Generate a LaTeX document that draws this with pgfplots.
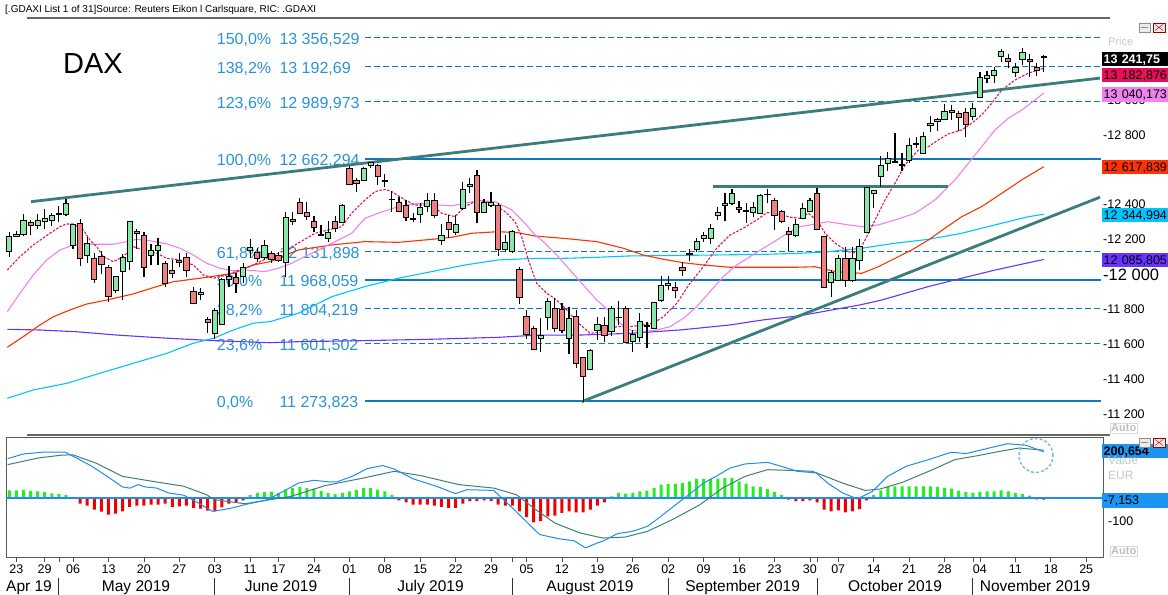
\documentclass[border=0pt]{standalone}
\usepackage{pgfplots}
\pgfplotsset{compat=1.18}
\usepackage{pgfplotstable}
\usepackage{fontspec}
\setmainfont{Liberation Sans}
\definecolor{upc}{HTML}{88E8A8}
\definecolor{dnc}{HTML}{F08080}
\definecolor{fibtxt}{HTML}{2A92D8}
\definecolor{fibln}{HTML}{0F78C0}
\definecolor{trend}{HTML}{3C7C7A}
\definecolor{ma5}{HTML}{E8105A}
\definecolor{ma20}{HTML}{EE82EE}
\definecolor{ma50}{HTML}{FF3300}
\definecolor{ma100}{HTML}{00C4FF}
\definecolor{ma200}{HTML}{6633FF}
\definecolor{macdb}{HTML}{1E8CF0}
\definecolor{macds}{HTML}{3F7F78}
\definecolor{hgreen}{HTML}{22EE22}
\definecolor{hred}{HTML}{F00000}
\definecolor{boxblue}{HTML}{1C94F4}

\pgfdeclareplotmark{candle}{%
  \pgfpathrectangle{\pgfqpoint{-2.6bp}{0bp}}{\pgfqpoint{5.2bp}{\candleh bp}}%
  \pgfusepathqfillstroke}
\pgfdeclareplotmark{wick}{%
  \pgfpathmoveto{\pgfqpoint{0bp}{0bp}}%
  \pgfpathlineto{\pgfqpoint{0bp}{\wickh bp}}%
  \pgfusepathqstroke}
\tikzset{fiblab/.style={anchor=base west, inner sep=0pt, yshift=-6.9bp, text=fibtxt, font=\fontsize{16bp}{18bp}\selectfont}}

\pgfplotstableread{
i O H L C t
0 12134.3 12245.0 12098.2 12216.3 u
1 12218.6 12249.1 12212.9 12230.1 u
2 12230.1 12346.6 12218.6 12310.4 u
3 12300.7 12312.2 12227.8 12283.5 d
4 12283.5 12344.9 12260.5 12312.2 u
5 12306.4 12373.5 12262.2 12323.6 u
6 12310.4 12350.6 12277.7 12339.1 u
7 12344.9 12392.5 12300.7 12348.3 u
8 12342.6 12430.9 12336.8 12409.7 u
9 12167.0 12289.2 12145.8 12285.2 u
10 12294.9 12316.2 12050.0 12092.4 d
11 12111.4 12212.9 12067.2 12178.5 u
12 12092.4 12121.1 11952.5 11972.0 d
13 12105.6 12136.0 12002.4 12058.0 d
14 12042.5 12055.7 11840.0 11874.4 d
15 11908.9 11992.6 11895.1 11989.2 u
16 12017.9 12117.1 11853.2 12098.2 u
17 12076.9 12306.4 12025.3 12304.7 u
18 12249.1 12258.8 12145.8 12237.6 d
19 12226.1 12241.6 11986.9 12040.8 d
20 12109.6 12174.5 12052.3 12138.3 u
21 12138.3 12207.2 12052.3 12168.7 u
22 12063.7 12075.2 11926.1 11949.0 d
23 12025.3 12082.7 11977.7 12006.4 d
24 12078.7 12121.1 12040.8 12071.2 d
25 12099.9 12121.1 11986.9 12023.6 d
26 11903.1 11929.5 11828.5 11834.3 d
27 11887.6 11923.8 11853.2 11897.4 u
28 11742.5 11757.4 11662.1 11725.2 d
29 11662.1 11809.0 11627.7 11794.1 u
30 11715.5 11977.7 11711.5 11969.7 u
31 11973.7 12050.0 11926.1 11990.9 u
32 11983.4 12006.4 11895.1 11949.0 d
33 11990.9 12065.5 11950.7 12040.8 u
34 12136.0 12203.2 12094.2 12155.5 u
35 12124.6 12151.5 12071.2 12092.4 d
36 12098.2 12197.4 12082.7 12168.7 u
37 12118.8 12134.3 12065.5 12088.4 d
38 12109.6 12128.6 12071.2 12082.7 d
39 12067.2 12359.8 11983.4 12327.7 u
40 12317.9 12356.3 12283.5 12304.7 d
41 12411.4 12438.4 12346.6 12348.3 d
42 12354.0 12417.1 12312.2 12333.4 d
43 12306.4 12336.8 12245.0 12270.3 d
44 12227.8 12281.8 12220.4 12224.4 d
45 12207.2 12308.1 12185.9 12241.6 u
46 12306.4 12335.1 12245.0 12264.5 d
47 12299.0 12404.0 12293.2 12398.2 u
48 12608.8 12619.1 12513.0 12517.0 d
49 12539.9 12551.4 12474.5 12520.4 d
50 12541.6 12617.9 12537.6 12608.8 u
51 12626.0 12646.6 12608.8 12640.9 u
52 12626.0 12633.4 12513.0 12562.9 d
53 12541.6 12574.3 12503.2 12535.9 d
54 12432.6 12480.2 12359.8 12428.6 d
55 12411.4 12444.1 12356.3 12363.8 d
56 12396.5 12426.9 12308.1 12325.4 d
57 12321.9 12350.6 12302.4 12317.9 d
58 12344.9 12411.4 12296.7 12385.0 u
59 12390.8 12465.3 12359.8 12425.2 u
60 12425.2 12465.3 12321.9 12339.1 d
61 12193.4 12289.2 12167.0 12224.4 u
62 12300.7 12339.1 12207.2 12256.5 d
63 12239.3 12339.1 12226.1 12289.2 u
64 12379.3 12530.2 12369.5 12488.3 u
65 12507.2 12551.4 12468.8 12518.7 u
66 12568.6 12599.0 12293.2 12356.3 d
67 12358.1 12430.9 12350.6 12413.7 u
68 12396.5 12472.8 12388.5 12415.4 u
69 12396.5 12408.0 12105.6 12144.1 d
70 12141.8 12226.1 12130.3 12185.9 u
71 12130.3 12254.8 12124.6 12249.1 u
72 12031.1 12040.8 11830.3 11868.7 d
73 11759.7 11795.8 11627.7 11656.4 d
74 11690.8 11704.0 11566.3 11570.4 d
75 11635.2 11748.2 11556.6 11650.7 u
76 11755.7 11862.9 11681.1 11845.7 u
77 11803.3 11862.9 11671.3 11690.8 d
78 11799.8 11834.3 11662.1 11681.1 d
79 11633.5 11811.3 11541.7 11748.2 u
80 11761.4 11795.8 11461.3 11490.0 d
81 11524.5 11527.9 11266.0 11417.2 d
82 11457.4 11572.1 11451.6 11566.3 u
83 11677.1 11757.4 11623.7 11715.5 u
84 11709.8 11757.4 11614.0 11652.4 d
85 11673.6 11818.8 11648.4 11803.3 u
86 11755.7 11849.2 11709.8 11751.6 d
87 11803.3 11818.8 11606.5 11610.5 d
88 11616.3 11681.1 11553.1 11654.1 u
89 11639.2 11776.9 11614.0 11728.7 u
90 11709.8 11728.7 11576.1 11700.0 d
91 11690.8 11843.4 11685.1 11837.7 u
92 11851.5 11990.9 11843.4 11935.2 u
93 11937.5 11990.9 11910.6 11949.0 u
94 11923.8 11956.5 11866.4 11908.9 d
95 12040.8 12072.9 11990.9 12023.6 d
96 12115.4 12144.1 12076.9 12121.1 u
97 12144.1 12207.2 12130.3 12191.7 u
98 12207.2 12245.0 12187.7 12224.4 u
99 12207.2 12289.2 12174.5 12264.5 u
100 12336.8 12385.0 12312.2 12356.3 u
101 12396.5 12465.3 12308.1 12408.0 u
102 12405.7 12490.0 12398.2 12465.3 u
103 12385.0 12419.4 12354.0 12373.5 d
104 12367.8 12408.0 12296.7 12363.8 d
105 12354.0 12415.4 12331.1 12385.0 u
106 12350.6 12461.3 12344.9 12455.6 u
107 12457.3 12488.3 12411.4 12461.3 u
108 12422.9 12436.7 12254.8 12340.8 d
109 12359.8 12369.5 12294.9 12302.4 d
110 12247.3 12273.7 12136.0 12231.8 d
111 12224.4 12316.2 12216.3 12287.5 u
112 12321.9 12408.0 12317.9 12379.3 u
113 12359.8 12436.7 12356.3 12422.9 u
114 12465.3 12494.0 12254.8 12258.8 d
115 12216.3 12220.4 11922.0 11926.1 d
116 11954.7 12025.3 11872.1 12012.1 u
117 11967.9 12111.4 11963.9 12092.4 u
118 12092.4 12159.0 11929.5 11967.9 d
119 11967.9 12159.0 11958.2 12092.4 u
120 12082.7 12201.4 12025.3 12163.0 u
121 12241.6 12503.2 12235.9 12499.8 u
122 12465.3 12484.3 12382.7 12482.6 u
123 12560.6 12679.3 12503.2 12626.0 u
124 12637.4 12704.0 12593.3 12666.1 u
125 12644.9 12809.6 12637.4 12650.6 u
126 12633.4 12694.8 12595.0 12623.7 d
127 12656.4 12780.9 12640.9 12738.4 u
128 12744.2 12786.6 12726.9 12749.9 u
129 12694.8 12818.7 12690.8 12790.1 u
130 12855.5 12908.8 12818.7 12866.9 u
131 12878.4 12897.0 12824.5 12889.9 u
132 12889.9 12977.7 12885.9 12937.5 u
133 12941.5 12970.2 12885.9 12931.8 d
134 12924.3 12939.2 12824.5 12901.4 d
135 12930.0 12953.0 12786.6 12862.9 d
136 12908.8 12985.1 12885.9 12953.0 u
137 13016.1 13163.0 13010.4 13130.8 u
138 13125.1 13167.0 13099.8 13142.3 u
139 13142.3 13188.2 13099.8 13168.7 u
140 13253.0 13291.5 13220.3 13277.7 u
141 13239.8 13262.8 13182.5 13224.3 d
142 13159.5 13214.6 13134.3 13188.2 u
143 13235.8 13298.9 13201.4 13272.0 u
144 13234.1 13262.8 13134.3 13224.3 d
145 13185.9 13211.1 13140.0 13172.7 d
146 13253.0 13259.0 13163.0 13241.75 d
}\candles

\pgfplotstableread{
i h
0 33
1 33
2 35
3 30
4 29
5 25
6 20
7 17
8 13
9 1
10 -25
11 -33
12 -51
13 -59
14 -72
15 -68
16 -58
17 -39
18 -33
19 -33
20 -29
21 -29
22 -25
23 -39
24 -36
25 -33
26 -43
27 -46
28 -55
29 -58
30 -41
31 -25
32 -19
33 -10
34 12
35 22
36 25
37 28
38 22
39 36
40 43
41 48
42 43
43 41
44 30
45 22
46 17
47 22
48 29
49 35
50 43
51 43
52 36
53 29
54 14
55 -10
56 -19
57 -29
58 -29
59 -29
60 -33
61 -39
62 -43
63 -43
64 -25
65 -14
66 -14
67 -10
68 -14
69 -29
70 -33
71 -33
72 -58
73 -83
74 -106
75 -101
76 -80
77 -77
78 -65
79 -58
80 -62
81 -62
82 -51
83 -33
84 -19
85 7
86 22
87 19
88 22
89 29
90 32
91 43
92 58
93 61
94 62
95 65
96 72
97 83
98 83
99 83
100 84
101 87
102 87
103 72
104 62
105 51
106 48
107 39
108 25
109 12
110 -7
111 -14
112 -14
113 -10
114 -19
115 -51
116 -58
117 -54
118 -62
119 -58
120 -48
121 -10
122 12
123 33
124 48
125 51
126 51
127 51
128 51
129 51
130 51
131 48
132 43
133 41
134 32
135 25
136 22
137 25
138 29
139 29
140 33
141 29
142 22
143 17
144 10
145 -6
146 -7.153
}\hist

\pgfplotstableread{
x y
7.3 12025
20 12102
33.3 12169
50 12236
60 12274
66.7 12289
73.3 12289
83.3 12255
90 12197
96.7 12159
103.3 12102
113.3 12073
123.3 12102
133.3 12159
143.3 12140
156.7 12121
166.7 12092
180 12083
193.3 12054
203.3 11997
213.3 11978
226.7 11997
240 12025
253.3 12054
266.7 12092
290 12152
315 12236
341.7 12274
351.7 12351
365 12427
375 12475
385 12488
391.7 12475
405 12427
415 12398
431.7 12398
441.7 12351
455 12331
465 12389
478.3 12427
491.7 12408
505 12360
515 12302
521.7 12216
528.3 12083
536.7 11949
546.7 11892
556.7 11853
566.7 11796
576.7 11729
590 11662
603.3 11671
616.7 11700
630 11700
643.3 11710
653.3 11720
663.3 11757
676.7 11834
690 11949
703.3 12044
716.7 12150
730 12226
743.3 12265
756.7 12312
766.7 12354
776.7 12351
790 12328
800 12322
808.3 12351
818.3 12302
825 12236
835 12179
848.3 12130
858.3 12121
865 12197
875 12312
885 12427
895 12523
905 12628
918.3 12714
928.3 12733
938.3 12771
948.3 12806
961.7 12829
971.7 12867
981.7 12915
991.7 12982
1001.7 13058
1015 13115
1028.3 13154
1043.7 13182.9
}\maA

\pgfplotstableread{
x y
7.3 11786
20 11892
33.3 11997
46.7 12083
60 12140
73.3 12169
86.7 12173
113.3 12173
126.7 12188
136.7 12201
150 12193
166.7 12175
180 12150
193.3 12111
206.7 12064
220 12035
233.3 12021
246.7 12025
265 12016
278.3 12035
291.7 12064
305 12102
325 12159
338.3 12197
351.7 12236
365 12322
378.3 12351
398.3 12389
418.3 12408
438.3 12398
451.7 12393
465 12408
478.3 12423
495 12417
511.7 12370
525 12293
535 12226
543.3 12188
556.7 12111
570 12025
583.3 11939
596.7 11853
610 11786
620 11720
630 11681
643.3 11671
656.7 11681
670 11700
683.3 11748
696.7 11815
710 11901
723.3 11987
736.7 12054
750 12102
763.3 12150
776.7 12197
790 12245
800 12274
828.3 12302
848.3 12284
861.7 12274
878.3 12284
895 12312
915 12351
935 12427
955 12542
968.3 12637
981.7 12733
995 12829
1008.3 12896
1021.7 12943
1035 13001
1043.7 13040.2
}\maB

\pgfplotstableread{
x y
7.3 11582
23.3 11643
40 11710
53.3 11757
70 11796
86.7 11830
106.7 11853
133.3 11888
156.7 11930
173.3 11958
200 11978
233.3 12006
253.3 12054
270 12073
281.7 12102
298.3 12140
331.7 12169
365 12188
398.3 12184
431.7 12201
451.7 12213
471.7 12236
498.3 12245
518.3 12239
535 12220
563.3 12207
596.7 12188
623.3 12150
643.3 12111
663.3 12087
683.3 12067
703.3 12054
730 12041
763.3 12041
796.7 12041
815 12044
835 12016
861.7 12006
878.3 12044
895 12092
911.7 12140
928.3 12197
945 12265
961.7 12331
981.7 12389
1001.7 12465
1021.7 12542
1043.7 12617.8
}\maC

\pgfplotstableread{
x y
7.3 11289
33.3 11337
66.7 11375
100 11433
133.3 11490
166.7 11547
193.3 11605
213.3 11633
233.3 11681
253.3 11720
270 11729
298.3 11777
331.7 11872
365 11930
398.3 11978
431.7 12016
465 12054
498.3 12083
535 12092
563.3 12092
596.7 12098
630 12106
696.7 12110
763.3 12115
800 12121
828.3 12130
861.7 12150
895 12179
928.3 12201
961.7 12236
995 12284
1028.3 12331
1043.7 12345.0
}\maD

\pgfplotstableread{
x y
7.3 11685
40 11681
76.7 11671
116.7 11652
166.7 11634
213.3 11620
270 11608
298.3 11614
365 11620
431.7 11628
498.3 11639
535 11651
580 11652
630 11662
680 11681
730 11710
763.3 11739
800 11763
860 11825
881.7 11853
928.3 11930
961.7 11978
995 12025
1043.7 12085.8
}\maE

\pgfplotstableread{
x v
7.7 171
23 191
42.1 199
65.1 199
76.5 174
91.8 138
107.2 94
122.5 48
130.1 43
137.8 58
145.4 48
156.9 43
168.4 22
183.7 12
195.2 -14
212.4 -58
229.6 -46
244.9 -29
267.9 -7
283.2 29
298.5 65
313.8 77
329.1 70
336.8 70
352.1 94
367.4 128
382.7 141
394.2 126
413.3 83
436.3 51
455.4 19
466.9 36
493.7 33
509 -29
524.3 -94
539.6 -159
558.7 -177
574 -186
585.5 -217
597 -196
602.5 -188
617.5 -155
632.5 -145
647.5 -123
658.7 -87
673.7 -36
688.7 14
703.7 65
718.7 101
730 130
745 148
767.5 155
778.7 141
797.5 116
816.2 109
827.5 65
842.5 22
857.5 -4
872.5 29
887.5 94
906.2 138
928.7 167
951.2 199
966.2 193
985 213
1007.5 236
1026.2 229
1043.7 200.654
}\macdline

\pgfplotstableread{
x v
7.7 145
38.3 174
61.2 186
72.7 188
95.7 152
122.5 94
153.1 72
183.7 51
206.7 14
214.3 -7
244.9 -25
290.9 7
325.3 54
363.6 87
394.2 116
421 97
459.2 58
493.7 43
516.6 14
535.8 -51
554.9 -109
580 -152
602.5 -174
625 -170
647.5 -145
673.7 -91
700 -29
722.5 43
745 94
767.5 123
790 120
812.5 116
842.5 65
865 33
880 39
902.5 68
932.5 123
955 167
977.5 184
1000 203
1018.7 217
1043.7 208
}\signalline

\begin{document}
\begin{tikzpicture}[x=1bp,y=1bp]

% ---------------- price panel ----------------
\begin{axis}[at={(0bp,163bp)}, anchor=south west, scale only axis,
  width=1103bp, height=414bp, xmin=0, xmax=1103, ymin=11095.9, ymax=13471.0,
  axis line style={draw=none}, clip=false, scaled y ticks=false, scaled x ticks=false,
  xtick=\empty, ytick pos=right, major tick length=0pt, ytick style={draw=none},
  ytick={11200,11400,11600,11800,12000,12200,12400,12600,12800,13000},
  yticklabels={-11 200,-11 400,-11 600,-11 800,{\fontsize{16.5bp}{17bp}\selectfont -12 000},-12 200,-12 400,-12 600,-12 800,-13 000},
  yticklabel style={anchor=west, inner xsep=0pt, font=\fontsize{12.5bp}{14bp}\selectfont, text=black},
]
% Fibonacci levels
\addplot[fibln, line width=1.1bp, dash pattern=on 6bp off 3bp] coordinates {(365,13356.529) (1101,13356.529)};
\addplot[fibln, line width=1.1bp, dash pattern=on 6bp off 3bp] coordinates {(365,13192.69) (1101,13192.69)};
\addplot[fibln, line width=1.1bp, dash pattern=on 6bp off 3bp] coordinates {(365,12989.973) (1101,12989.973)};
\addplot[fibln, line width=1.1bp] coordinates {(365,12662.294) (1101,12662.294)};
\addplot[fibln, line width=1.1bp, dash pattern=on 6bp off 3bp] coordinates {(365,12131.898) (1101,12131.898)};
\addplot[fibln, line width=1.1bp] coordinates {(365,11968.059) (1101,11968.059)};
\addplot[fibln, line width=1.1bp, dash pattern=on 6bp off 3bp] coordinates {(365,11804.219) (1101,11804.219)};
\addplot[fibln, line width=1.1bp, dash pattern=on 6bp off 3bp] coordinates {(365,11601.502) (1101,11601.502)};
\addplot[fibln, line width=1.1bp] coordinates {(365,11273.823) (1101,11273.823)};
\node[fiblab] at (axis cs:216.7,13356.529) {150,0\%};
\node[fiblab] at (axis cs:279.3,13356.529) {13 356,529};
\node[fiblab] at (axis cs:216.7,13192.69) {138,2\%};
\node[fiblab] at (axis cs:279.3,13192.69) {13 192,69};
\node[fiblab] at (axis cs:216.7,12989.973) {123,6\%};
\node[fiblab] at (axis cs:279.3,12989.973) {12 989,973};
\node[fiblab] at (axis cs:216.7,12662.294) {100,0\%};
\node[fiblab] at (axis cs:279.3,12662.294) {12 662,294};
\node[fiblab] at (axis cs:216.7,12131.898) {61,8\%};
\node[fiblab] at (axis cs:279.3,12131.898) {12 131,898};
\node[fiblab] at (axis cs:216.7,11968.059) {50,0\%};
\node[fiblab] at (axis cs:279.3,11968.059) {11 968,059};
\node[fiblab] at (axis cs:216.7,11804.219) {38,2\%};
\node[fiblab] at (axis cs:279.3,11804.219) {11 804,219};
\node[fiblab] at (axis cs:216.7,11601.502) {23,6\%};
\node[fiblab] at (axis cs:279.3,11601.502) {11 601,502};
\node[fiblab] at (axis cs:216.7,11273.823) {0,0\%};
\node[fiblab] at (axis cs:279.3,11273.823) {11 273,823};
% moving averages
\addplot[ma200, line width=1.1bp] table[x=x,y=y] {\maE};
\addplot[ma100, line width=1.1bp] table[x=x,y=y] {\maD};
\addplot[ma50, line width=1.1bp] table[x=x,y=y] {\maC};
\addplot[ma20, line width=1.1bp] table[x=x,y=y] {\maB};
\addplot[ma5, line width=1.1bp, dash pattern=on 2.5bp off 1.5bp] table[x=x,y=y] {\maA};
% candles
\addplot[only marks, mark=wick, mark options={draw=black, line width=1.2bp},
  visualization depends on={(\thisrow{H}-\thisrow{L})*0.17431 \as \wickh}]
  table[x expr=9.3+7.085*\thisrow{i}, y=L] {\candles};
\addplot[scatter, only marks, scatter src=explicit symbolic,
  visualization depends on={(\thisrow{O}-\thisrow{C})*0.17431 \as \candleh},
  scatter/classes={u={mark=candle,draw=black,fill=upc,line width=0.9bp},
                   d={mark=candle,draw=black,fill=dnc,line width=0.9bp}}]
  table[x expr=9.3+7.085*\thisrow{i}, y=C, meta=t] {\candles};
% trend lines
\addplot[trend, line width=2.8bp] coordinates {(31,12417.1) (1100,13126.2)};
\addplot[trend, line width=2.8bp] coordinates {(581.7,11269.8) (1100,12443.0)};
\addplot[trend, line width=2.8bp] coordinates {(713.3,12503.2) (948.3,12503.2)};
\end{axis}

% ---------------- MACD panel ----------------
\begin{axis}[at={(6bp,38bp)}, anchor=south west, scale only axis,
  width=1097bp, height=120bp, xmin=6, xmax=1103, ymin=-256.5, ymax=265.2,
  clip=false, axis line style={draw=black!65, line width=0.8bp},
  scaled y ticks=false, scaled x ticks=false,
  xtick pos=bottom, ytick pos=right, tick align=outside, major tick length=5bp,
  tick style={black!70, line width=0.8bp},
  xtick={16.4,44.7,73.1,108.5,143.9,179.3,214.8,250.2,278.5,314.0,349.4,384.8,420.2,455.7,491.1,526.5,561.9,597.4,632.8,668.2,703.6,739.1,774.5,809.9,838.2,873.7,909.1,944.5,979.9,1015.4,1050.8,1086.2},
  xticklabels={23,29,06,13,20,27,03,11,17,24,01,08,15,22,29,05,12,19,26,02,09,16,23,30,07,14,21,28,04,11,18,25},
  xticklabel style={font=\fontsize{12.5bp}{14bp}\selectfont, inner sep=2.5bp, text=black},
  extra x ticks={58.9,512.3,817.0,972.9}, extra x tick labels={},
  ytick={-100}, yticklabels={-100}, ytick style={draw=none},
  yticklabel style={anchor=west, inner xsep=0pt, font=\fontsize{12.5bp}{14bp}\selectfont, text=black},
]
\addplot[ybar, bar width=3bp, fill=hgreen, draw=none, restrict y to domain=0:1000]
  table[x expr=9.3+7.085*\thisrow{i}, y=h] {\hist};
\addplot[ybar, bar width=3bp, fill=hred, draw=none, restrict y to domain=-1000:0]
  table[x expr=9.3+7.085*\thisrow{i}, y=h] {\hist};
\addplot[macdb, line width=1.3bp] coordinates {(6,0) (1103,0)};
\addplot[macds, line width=1.0bp] table[x=x,y=v] {\signalline};
\addplot[macdb, line width=1.0bp] table[x=x,y=v] {\macdline};
\end{axis}

% ---------------- frame, titles, labels ----------------
\draw[black!60, line width=1.2bp] (27,577) -- (1110,577);
\draw[black!60, line width=1.2bp] (27,160) -- (1110,160);
\node[anchor=base west, inner sep=0pt, font=\fontsize{10bp}{12bp}\selectfont] at (5,582.4) {[.GDAXI List 1 of 31]Source: Reuters Eikon l Carlsquare, RIC: .GDAXI};
\node[anchor=base, inner sep=0pt, font=\fontsize{29bp}{32bp}\selectfont] at (93,521) {DAX};

% value boxes
\tikzset{vbox/.style={anchor=west, inner xsep=1.5bp, inner ysep=2.8bp, text height=8.9bp, text depth=0bp, text width=64bp, align=left, font=\fontsize{12.5bp}{14bp}\selectfont}}
\node[vbox, fill=black, text=white, font=\fontsize{12.5bp}{14bp}\selectfont\bfseries] at (1102,536) {13 241,75};
\node[vbox, fill=ma5] at (1102,520) {13 182,876};
\node[vbox, fill=ma20] at (1102,500.5) {13 040,173};
\node[vbox, fill=ma50] at (1102,428) {12 617,839};
\node[vbox, fill=ma100] at (1102,380) {12 344,994};
\node[vbox, fill=ma200] at (1102,335) {12 085,805};
\node[vbox, fill=boxblue, font=\fontsize{12.5bp}{14bp}\selectfont\bfseries] at (1102,144) {200,654};
\node[vbox, fill=boxblue] at (1102,94.5) {-7,153};
\node[anchor=base west, inner sep=0pt, text=black!22, font=\fontsize{11bp}{12bp}\selectfont] at (1108,549) {Price};
\node[anchor=base west, inner sep=0pt, text=black!22, font=\fontsize{12bp}{13bp}\selectfont] at (1108,130) {Value};
\node[anchor=base west, inner sep=0pt, text=black!22, font=\fontsize{12bp}{13bp}\selectfont] at (1108,115) {EUR};
\node[anchor=west, draw=black!15, fill=white, inner sep=1bp, text=black!25, font=\fontsize{11bp}{12bp}\selectfont\bfseries] at (1110,167) {Auto};
\node[anchor=west, draw=black!15, fill=white, inner sep=1bp, text=black!25, font=\fontsize{11bp}{12bp}\selectfont\bfseries] at (1110,44) {Auto};

% window icons
\foreach \yy in {563,148} {
  \draw[black!45, fill=black!8] (1139,\yy) rectangle (1150,\yy+9);
  \draw[black!45] (1141,\yy+4.5) -- (1148,\yy+4.5);
  \draw[red!60!black, fill=red!10] (1153,\yy) rectangle (1165,\yy+9);
  \draw[red!60!black] (1155,\yy+1.5) -- (1163,\yy+7.5) (1155,\yy+7.5) -- (1163,\yy+1.5);
}

% highlight circle in MACD panel
\draw[color={rgb,255:red,138;green,180;blue,224}, line width=1.5bp, dash pattern=on 3bp off 2bp] (1036,139.5) circle (17);

% month separators and labels
\foreach \xx in {58.9,214.8,349.4,512.3,668.2,817.0,972.9} {
  \draw[black!80, line width=0.9bp] (\xx,0) -- (\xx,17);
}
\tikzset{mlab/.style={anchor=base, inner sep=0pt, font=\fontsize{15.5bp}{17bp}\selectfont}}
\node[mlab] at (29,3.5) {Apr 19};
\node[mlab] at (136,3.5) {May 2019};
\node[mlab] at (281,3.5) {June 2019};
\node[mlab] at (430.5,3.5) {July 2019};
\node[mlab] at (590,3.5) {August 2019};
\node[mlab] at (742.6,3.5) {September 2019};
\node[mlab] at (895,3.5) {October 2019};
\node[mlab] at (1035,3.5) {November 2019};

\pgfresetboundingbox
\path[use as bounding box] (0,0) rectangle (1168,595);
\end{tikzpicture}
\end{document}
